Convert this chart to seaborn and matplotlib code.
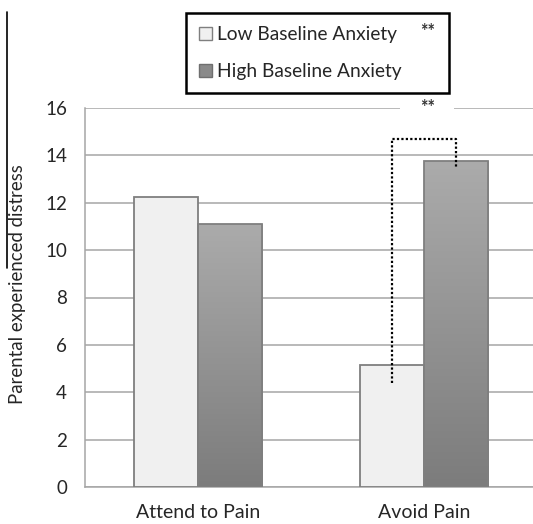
import numpy as np
import pandas as pd
import seaborn as sns
import matplotlib.pyplot as plt
from matplotlib.patches import Patch, Rectangle
from matplotlib.lines import Line2D
from matplotlib.colors import LinearSegmentedColormap

# data
categories = ["Attend to Pain", "Avoid Pain"]
groups = ["Low Baseline Anxiety", "High Baseline Anxiety"]
low_anxiety = [12.25, 5.15]
high_anxiety = [11.1, 13.75]
yticks = [0, 2, 4, 6, 8, 10, 12, 14, 16]
# significance bracket (Avoid Pain): left foot, top, right foot
bracket_left, bracket_top, bracket_right = 4.4, 14.7, 13.5

df = pd.DataFrame({
    "condition": categories * 2,
    "group": [groups[0]] * 2 + [groups[1]] * 2,
    "distress": low_anxiety + high_anxiety,
})

sns.set_style("white")
plt.rcParams["font.family"] = ["Lato", "DejaVu Sans"]

W, H = 533, 524
fig = plt.figure(figsize=(W / 100, H / 100), dpi=100)
ax = fig.add_axes([85 / W, 1 - 487 / H, (537 - 85) / W, (487 - 108) / H])

sns.barplot(data=df, x="condition", y="distress", hue="group",
            hue_order=groups, order=categories,
            palette=["#f0f0f0", "#999999"], width=0.57,
            edgecolor="#7f7f7f", linewidth=1.3, legend=False, ax=ax, zorder=3)

ax.set_xlim(-0.5, 1.5)
ax.set_ylim(0, 16)
ax.set_yticks(yticks)
ax.yaxis.grid(True, color="#a6a6a6", linewidth=1.1, zorder=0)
ax.set_axisbelow(True)

# gradient fill on the high-anxiety bars
cmap = LinearSegmentedColormap.from_list("g", ["#7c7c7c", "#ababab"])
grad = np.linspace(0, 1, 256).reshape(-1, 1)
bars = [p for p in ax.patches if p.get_height() > 0]
for p in bars[2:]:
    x0, w, h = p.get_x(), p.get_width(), p.get_height()
    im = ax.imshow(grad, cmap=cmap, origin="lower", aspect="auto",
                   extent=[x0, x0 + w, 0, h], zorder=2.9)
    im.set_clip_path(p)
    p.set_facecolor("none")
ax.set_xlim(-0.5, 1.5)
ax.set_ylim(0, 16)

for s in ["top", "right"]:
    ax.spines[s].set_visible(False)
for s in ["left", "bottom"]:
    ax.spines[s].set_color("#a6a6a6")
    ax.spines[s].set_linewidth(1.1)

ax.set_xticks([-0.5, 0.5, 1.5], minor=True)
ax.tick_params(axis="x", which="major", length=0, labelsize=14, pad=12)
ax.tick_params(axis="x", which="minor", length=5, color="#a6a6a6", width=1.1)
ax.tick_params(axis="y", length=5, color="#a6a6a6", width=1.1, labelsize=13.5, pad=8)
ax.set_xlabel("")
ax.set_ylabel("Parental experienced distress", fontsize=13.4)
ax.yaxis.set_label_coords(-0.131, 0.536)

# significance bracket on Avoid Pain
lo_bar, hi_bar = bars[1], bars[3]
xl = lo_bar.get_x() + lo_bar.get_width() / 2
xr = hi_bar.get_x() + hi_bar.get_width() / 2
ax.plot([xl, xl, xr, xr], [bracket_left, bracket_top, bracket_top, bracket_right],
        color="black", linestyle=(0, (1, 1)), linewidth=1.6, zorder=5,
        clip_on=False)
ax.text((xl + xr) / 2 + 0.015, 16, "**", ha="center", va="center", fontsize=13,
        fontweight="bold", color="#333333", zorder=6,
        bbox=dict(facecolor="white", edgecolor="none", pad=14))

# legend with hand-drawn frame
fig.patches.append(Rectangle((186 / W, 1 - 93 / H), (449 - 186) / W, 80 / H,
                             transform=fig.transFigure, fill=False,
                             edgecolor="black", linewidth=1.8))
handles = [Patch(facecolor="#f0f0f0", edgecolor="#7f7f7f", linewidth=1),
           Patch(facecolor="#8a8a8a", edgecolor="#6f6f6f", linewidth=1)]
fig.legend(handles, groups, loc="upper left",
           bbox_to_anchor=(199 / W, 1 - 26 / H), frameon=False,
           fontsize=13.8, handlelength=0.68, handleheight=0.68,
           handletextpad=0.25, labelspacing=1.06, borderaxespad=0,
           borderpad=0)
fig.text(428 / W, 1 - 31 / H, "**", ha="center", va="center", fontsize=13,
         fontweight="bold", color="#333333")

# stray vertical rule at the left edge
fig.add_artist(Line2D([7 / W, 7 / W], [1 - 12 / H, 1 - 268 / H],
                      transform=fig.transFigure, color="black", linewidth=1.2))

fig.savefig("out.png", dpi=100)
